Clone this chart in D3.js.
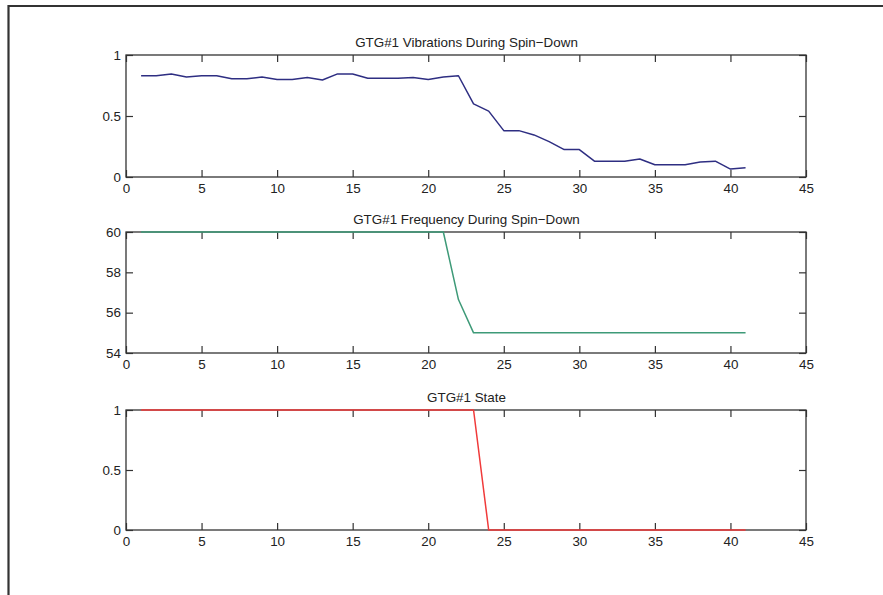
<!DOCTYPE html>
<html>
<head>
<meta charset="utf-8">
<script src="https://cdn.jsdelivr.net/npm/d3@7"></script>
<style>
  html, body { margin: 0; padding: 0; background: #fff; }
  svg { display: block; }
  text { font-family: "Liberation Sans", Arial, Helvetica, sans-serif; fill: #222; }
</style>
</head>
<body>
<svg id="chart" width="883" height="595"></svg>
<script>
// Sample index (time steps) shared by all three traces
const samples = d3.range(1, 42);

// Vibration level per sample
const vibration = [
  0.83, 0.83, 0.845, 0.82, 0.83, 0.83, 0.805, 0.805, 0.82, 0.80,
  0.80, 0.815, 0.795, 0.845, 0.845, 0.81, 0.81, 0.81, 0.815, 0.80,
  0.82, 0.83, 0.60, 0.54, 0.38, 0.38, 0.345, 0.29, 0.225, 0.225,
  0.13, 0.13, 0.13, 0.148, 0.10, 0.10, 0.10, 0.123, 0.13, 0.065,
  0.075
];

// Generator frequency (Hz) per sample
const frequency = [
  60, 60, 60, 60, 60, 60, 60, 60, 60, 60,
  60, 60, 60, 60, 60, 60, 60, 60, 60, 60,
  60, 56.65, 55, 55, 55, 55, 55, 55, 55, 55,
  55, 55, 55, 55, 55, 55, 55, 55, 55, 55,
  55
];

// On/off state per sample
const state = [
  1, 1, 1, 1, 1, 1, 1, 1, 1, 1,
  1, 1, 1, 1, 1, 1, 1, 1, 1, 1,
  1, 1, 1, 0, 0, 0, 0, 0, 0, 0,
  0, 0, 0, 0, 0, 0, 0, 0, 0, 0,
  0
];

const xTicks = [0, 5, 10, 15, 20, 25, 30, 35, 40, 45];
const panels = [
  { title: "GTG#1 Vibrations During Spin\u2212Down", values: vibration, yDomain: [0, 1], yTicks: [0, 0.5, 1], color: "#2e2e82", top: 55, bottom: 177 },
  { title: "GTG#1 Frequency During Spin\u2212Down", values: frequency, yDomain: [54, 60], yTicks: [54, 56, 58, 60], color: "#3e9a78", top: 232, bottom: 353 },
  { title: "GTG#1 State", values: state, yDomain: [0, 1], yTicks: [0, 0.5, 1], color: "#f03a3a", top: 410, bottom: 530 }
];

const svg = d3.select("#chart");
const left = 126, right = 806;
const fontSize = 13.4;

// Figure frame (top and left edges)
svg.append("line").attr("x1", 8.5).attr("x2", 883).attr("y1", 6).attr("y2", 6)
  .attr("stroke", "#333").attr("stroke-width", 2.2);
svg.append("line").attr("x1", 8.5).attr("x2", 8.5).attr("y1", 5).attr("y2", 595)
  .attr("stroke", "#333").attr("stroke-width", 2.2);

const x = d3.scaleLinear().domain([0, 45]).range([left, right]);
const tickLen = 7;
const fmt = d3.format("~g");

panels.forEach(p => {
  const y = d3.scaleLinear().domain(p.yDomain).range([p.bottom, p.top]);
  const g = svg.append("g");

  // Bottom axis with labels, ticks pointing inward
  const gb = g.append("g").attr("transform", `translate(0,${p.bottom})`)
    .call(d3.axisBottom(x).tickValues(xTicks).tickFormat(fmt)
      .tickSizeInner(-tickLen).tickSizeOuter(0).tickPadding(6));
  // Top axis, ticks only
  const gt = g.append("g").attr("transform", `translate(0,${p.top})`)
    .call(d3.axisTop(x).tickValues(xTicks).tickFormat("")
      .tickSizeInner(-tickLen).tickSizeOuter(0));
  // Left axis with labels
  const gl = g.append("g").attr("transform", `translate(${left},0)`)
    .call(d3.axisLeft(y).tickValues(p.yTicks).tickFormat(fmt)
      .tickSizeInner(-tickLen).tickSizeOuter(0).tickPadding(5));
  // Right axis, ticks only
  const gr = g.append("g").attr("transform", `translate(${right},0)`)
    .call(d3.axisRight(y).tickValues(p.yTicks).tickFormat("")
      .tickSizeInner(-tickLen).tickSizeOuter(0));

  [gb, gt, gl, gr].forEach(a => {
    a.select(".domain").remove();
    a.selectAll(".tick line").attr("stroke", "#333").attr("stroke-width", 1.2);
    a.selectAll(".tick text").attr("font-size", fontSize).attr("fill", "#222")
      .style("font-family", "'Liberation Sans', Arial, sans-serif");
  });

  // Axes box
  g.append("rect")
    .attr("x", left).attr("y", p.top)
    .attr("width", right - left).attr("height", p.bottom - p.top)
    .attr("fill", "none").attr("stroke", "#333").attr("stroke-width", 1.3);

  // Trace
  const line = d3.line().x((d, i) => x(samples[i])).y(d => y(d));
  g.append("path").datum(p.values)
    .attr("d", line)
    .attr("fill", "none")
    .attr("stroke", p.color)
    .attr("stroke-width", 1.5)
    .attr("stroke-linejoin", "round");

  // Title
  g.append("text")
    .attr("x", (left + right) / 2 + 0.5)
    .attr("y", p.top - 8.5)
    .attr("text-anchor", "middle")
    .attr("font-size", fontSize)
    .text(p.title);
});
</script>
</body>
</html>
